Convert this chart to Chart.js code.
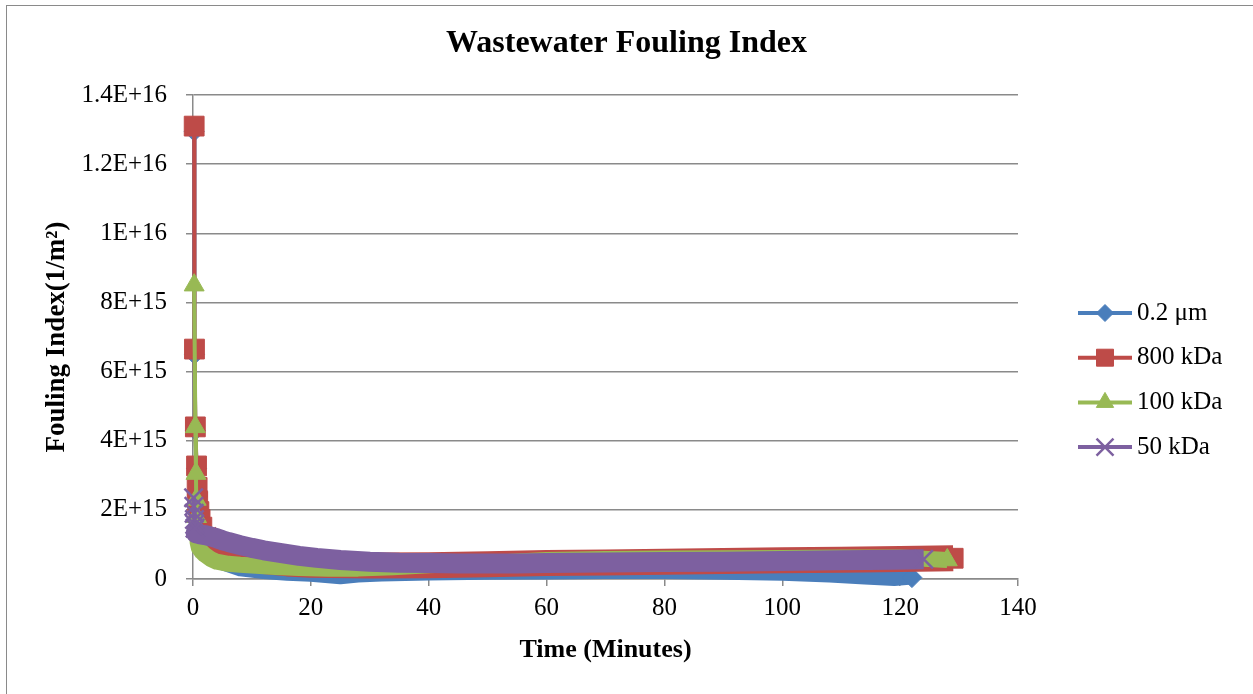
<!DOCTYPE html>
<html>
<head>
<meta charset="utf-8">
<title>Wastewater Fouling Index</title>
<script src="https://cdn.jsdelivr.net/npm/chart.js@4.4.0/dist/chart.umd.min.js"></script>
<style>
  html, body { margin: 0; padding: 0; background: #fff; overflow: hidden; }
  #wrap { position: relative; width: 1253px; height: 694px; }
  #frame { position: absolute; left: 6px; top: 5px; width: 1300px; height: 800px; border: 1.5px solid #8a8a8a; }
  #wrap canvas { position: absolute; left: 0; top: 0; }
</style>
</head>
<body>
<div id="wrap">
  <div id="frame"></div>
  <canvas id="chart" width="1253" height="694"></canvas>
</div>
<script>
// values, time in minutes, fouling index in 1/m2
const blueTime  = [0.2, 0.25, 0.4, 0.6, 0.7, 0.8, 1.0, 1.5, 2, 3, 5, 8, 12, 16, 20, 25, 28, 32, 40, 50, 60, 70, 80, 90, 100, 108, 114, 119, 122];
const blueValue = [12.95e15, 6.5e15, 4.3e15, 3.2e15, 2.55e15, 2.1e15, 1.8e15, 1.3e15, 1.0e15, 0.7e15, 0.45e15, 0.28e15, 0.2e15, 0.15e15, 0.12e15, 0.05e15, 0.1e15, 0.13e15, 0.16e15, 0.18e15, 0.19e15, 0.2e15, 0.2e15, 0.18e15, 0.15e15, 0.1e15, 0.04e15, 0.0, 0.04e15];

const redTime  = [0.2, 0.25, 0.4, 0.6, 0.7, 0.8, 1.0, 1.2, 1.5, 2, 3, 5, 8, 12, 16, 20, 30, 40, 50, 60, 70, 80, 90, 100, 110, 120, 129];
const redValue = [13.1e15, 6.65e15, 4.4e15, 3.27e15, 2.65e15, 2.25e15, 1.95e15, 1.72e15, 1.5e15, 1.3e15, 1.05e15, 0.85e15, 0.65e15, 0.52e15, 0.45e15, 0.41e15, 0.39e15, 0.4e15, 0.43e15, 0.46e15, 0.48e15, 0.5e15, 0.52e15, 0.54e15, 0.56e15, 0.58e15, 0.6e15];

const greenTime  = [0.2, 0.4, 0.5, 0.55, 0.6, 0.65, 0.7, 0.8, 1, 1.5, 2, 3, 4, 6, 8, 10, 14, 18, 23, 28, 34, 40, 50, 60, 70, 80, 90, 100, 110, 120, 128];
const greenValue = [8.5e15, 4.4e15, 3.05e15, 2.3e15, 1.8e15, 1.5e15, 1.25e15, 1.05e15, 0.9e15, 0.78e15, 0.7e15, 0.58e15, 0.5e15, 0.44e15, 0.41e15, 0.39e15, 0.35e15, 0.32e15, 0.3e15, 0.3e15, 0.34e15, 0.4e15, 0.46e15, 0.55e15, 0.58e15, 0.59e15, 0.6e15, 0.61e15, 0.62e15, 0.62e15, 0.55e15];

const purpleTime  = [0.1, 0.15, 0.2, 0.25, 0.3, 0.35, 0.4, 0.5, 1, 2, 3, 4, 5, 6, 8, 10, 12, 15, 18, 21, 25, 30, 35, 40, 45, 50, 55, 60, 65, 70, 80, 90, 100, 110, 119, 124];
const purpleValue = [2.35e15, 2.1e15, 1.9e15, 1.72e15, 1.58e15, 1.47e15, 1.38e15, 1.32e15, 1.3e15, 1.27e15, 1.23e15, 1.18e15, 1.12e15, 1.07e15, 0.98e15, 0.9e15, 0.83e15, 0.75e15, 0.67e15, 0.61e15, 0.55e15, 0.5e15, 0.47e15, 0.46e15, 0.45e15, 0.45e15, 0.45e15, 0.46e15, 0.47e15, 0.48e15, 0.49e15, 0.5e15, 0.52e15, 0.54e15, 0.56e15, 0.57e15];

const xTicks = { min: 0, max: 140, step: 20 };
const yTicks = { min: 0, max: 1.4e16, step: 2e15 };

const GRID = '#8a8a8a';
const FONT = '"Liberation Serif", "Times New Roman", serif';

// look of each series; the dense Excel markers merge into a band, so the
// line gets thick once the first steep drop is over
const series = [
  { label: '0.2 μm',  t: blueTime,   v: blueValue,   color: '#4A7EBB', style: 'rectRot',  r: 10,   lr: 8.5, bw: 1,   band: 14, cut: 2,   order: 4 },
  { label: '800 kDa', t: redTime,    v: redValue,    color: '#BE4B48', style: 'rect',     r: 14,   lr: 12,  bw: 1,   band: 26, cut: 2,   order: 3 },
  { label: '100 kDa', t: greenTime,  v: greenValue,  color: '#98B954', style: 'triangle', r: 11.5, lr: 10,  bw: 1,   band: 16, cut: 0.7, order: 2 },
  { label: '50 kDa',  t: purpleTime, v: purpleValue, color: '#7D60A0', style: 'crossRot', r: 13,   lr: 12,  bw: 2.5, band: 20, cut: 0.4, order: 1 }
];

function sciLabel(v) {
  if (v === 0) return '0';
  const exp = Math.floor(Math.log10(v) + 1e-9);
  const mant = Math.round(v / Math.pow(10, exp) * 10) / 10;
  return mant + 'E+' + exp;
}

// markers only where they stand apart: the steep start and the last point
function markerSize(s) {
  return c => (s.t[c.dataIndex] < s.cut || c.dataIndex === s.t.length - 1 ? s.r : 0);
}

const datasets = series.map(s => ({
  label: s.label,
  data: s.t.map((t, i) => ({ x: t, y: s.v[i] })),
  borderColor: s.color,
  backgroundColor: s.color,
  borderWidth: 4,
  borderJoinStyle: 'round',
  pointStyle: s.style,
  pointRadius: markerSize(s),
  pointHoverRadius: markerSize(s),
  pointBorderWidth: s.bw,
  pointBackgroundColor: s.color,
  pointBorderColor: s.color,
  tension: 0,
  clip: false,
  order: s.order,
  segment: {
    borderWidth: c => (s.t[c.p0DataIndex] >= s.cut ? s.band : 4)
  }
}));

// Excel style legend: short line with the marker on it
const sideLegend = {
  id: 'sideLegend',
  afterDraw(chart) {
    const ctx = chart.ctx;
    const x0 = chart.chartArea.right + 60;
    const top = 313, gap = 44.7;
    ctx.save();
    series.forEach((s, i) => {
      const y = top + i * gap;
      ctx.strokeStyle = s.color;
      ctx.lineWidth = 4;
      ctx.beginPath();
      ctx.moveTo(x0, y);
      ctx.lineTo(x0 + 54, y);
      ctx.stroke();
      ctx.fillStyle = s.color;
      ctx.lineWidth = s.bw;
      Chart.helpers.drawPoint(ctx, { pointStyle: s.style, radius: s.lr, borderWidth: s.bw, rotation: 0 }, x0 + 27, y);
      ctx.fillStyle = '#000';
      ctx.font = '25px ' + FONT;
      ctx.textBaseline = 'middle';
      ctx.textAlign = 'left';
      ctx.fillText(s.label, x0 + 59, y);
    });
    ctx.restore();
  }
};

Chart.defaults.font.family = FONT;
Chart.defaults.color = '#000';

new Chart(document.getElementById('chart'), {
  type: 'line',
  data: { datasets },
  plugins: [sideLegend],
  options: {
    responsive: false,
    animation: false,
    devicePixelRatio: 1,
    layout: { padding: 0 },
    plugins: {
      legend: { display: false },
      tooltip: { enabled: false },
      title: {
        display: true,
        text: 'Wastewater Fouling Index',
        color: '#000',
        font: { size: 32, weight: 'bold', family: FONT },
        padding: { top: 25, bottom: 31.6 }
      }
    },
    scales: {
      x: {
        type: 'linear',
        min: xTicks.min,
        max: xTicks.max,
        afterFit: s => { s.height = 115; },
        ticks: { stepSize: xTicks.step, padding: 7, font: { size: 25 }, color: '#000' },
        grid: { drawOnChartArea: false, drawTicks: true, tickLength: 7, color: GRID, lineWidth: 1.5 },
        border: { color: GRID, width: 1.5 },
        title: {
          display: true,
          text: 'Time (Minutes)',
          color: '#000',
          font: { size: 26, weight: 'bold' },
          padding: { top: 0, bottom: 28 }
        }
      },
      y: {
        min: yTicks.min,
        max: yTicks.max,
        afterFit: s => { s.width = 193; },
        ticks: { stepSize: yTicks.step, padding: 19, font: { size: 25 }, color: '#000', callback: sciLabel },
        grid: { color: GRID, lineWidth: 1.5, tickLength: 7 },
        border: { color: GRID, width: 1.5 },
        title: {
          display: true,
          text: 'Fouling Index(1/m²)',
          color: '#000',
          font: { size: 27, weight: 'bold' },
          padding: { top: 41, bottom: 0 }
        }
      },
      // empty right-hand axis keeps room for the legend
      side: {
        position: 'right',
        min: 0,
        max: 1,
        afterFit: s => { s.width = 235; },
        ticks: { display: false },
        grid: { display: false },
        border: { display: false }
      }
    }
  }
});
</script>
</body>
</html>
